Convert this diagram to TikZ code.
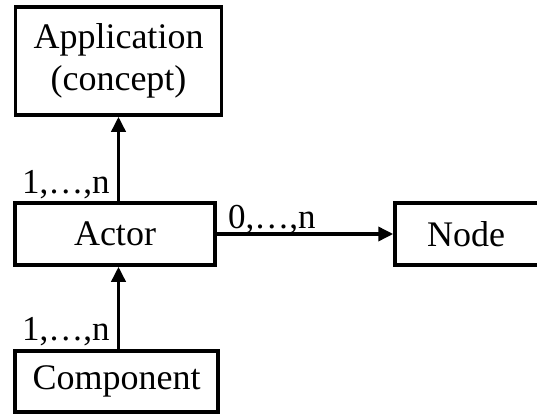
\documentclass[tikz,border=0pt]{standalone}
\usepackage{fontspec}
\setmainfont{Liberation Serif}
\usetikzlibrary{arrows.meta}
\begin{document}
\begin{tikzpicture}[x=1bp,y=1bp,
  box/.style={draw, line width=3.5bp, rectangle, inner sep=0pt, align=center,
    font=\fontsize{36bp}{42bp}\selectfont},
  mult/.style={inner sep=0pt, anchor=base west, font=\fontsize{35bp}{42bp}\selectfont},
  link/.style={line width=3.5bp, -{Triangle[length=15bp,width=14bp]}}]
  \useasboundingbox (0,0) rectangle (537,414);
  % classes
  \node[box, minimum width=206bp, minimum height=108bp] (app) at (118.5,353) {Application\\(concept)};
  \node[box, minimum width=200bp, minimum height=62bp] (actor) at (115,180) {Actor};
  \node[box, minimum width=148bp, minimum height=62bp] (node) at (469,180) {\hspace*{-6bp}Node};
  \node[box, minimum width=203bp, minimum height=61bp] (comp) at (116.5,32.5) {Component};
  % associations
  \draw[link] (actor.north -| app) -- (app.south);
  \draw[link] (actor.east) -- (node.west);
  \draw[link] (comp.north -| app) -- (actor.south -| app);
  % multiplicities
  \node[mult] (m1) at (22,221) {1,…,n};
  \node[mult] (m2) at (228,186) {0,…,n};
  \node[mult] (m3) at (22,74) {1,…,n};
\end{tikzpicture}
\end{document}
